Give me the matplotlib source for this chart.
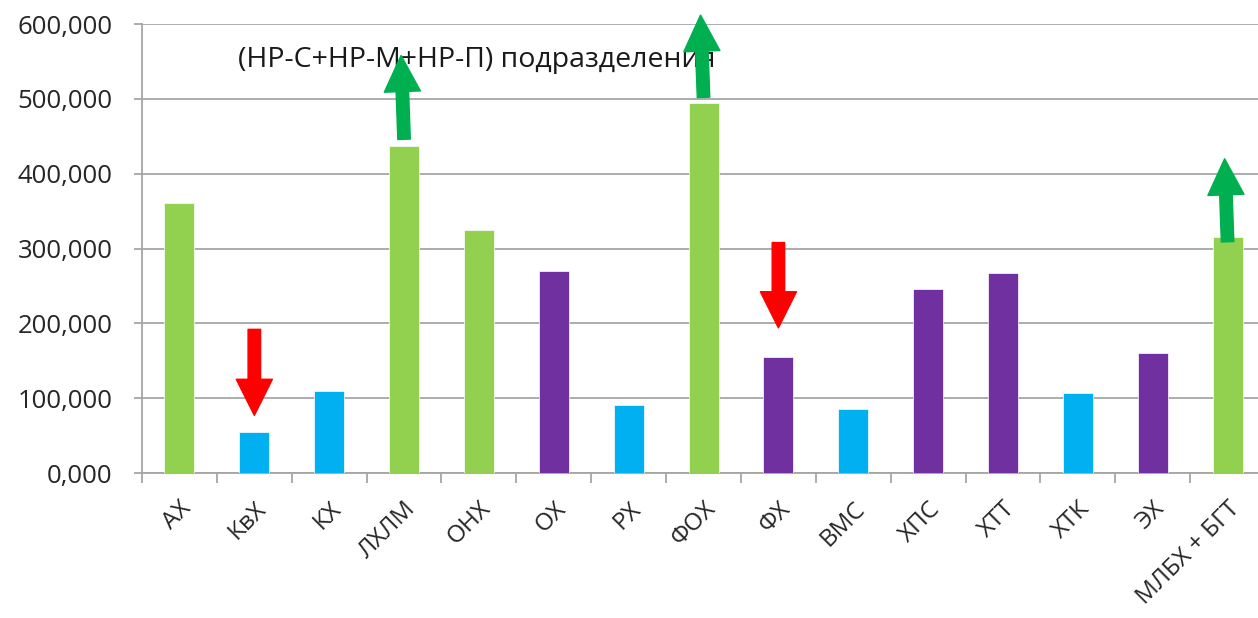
import matplotlib
matplotlib.use("Agg")
import matplotlib.pyplot as plt
import numpy as np
from matplotlib.ticker import FuncFormatter, MultipleLocator, FixedLocator

# данные
categories = ["АХ", "КвХ", "КХ", "ЛХЛМ", "ОНХ", "ОХ", "РХ", "ФОХ", "ФХ", "ВМС",
              "ХПС", "ХТТ", "ХТК", "ЭХ", "МЛБХ + БГТ"]
values = [361000, 55000, 110000, 437000, 325000, 270500, 91500, 495000, 155500, 85500,
          246000, 267000, 106500, 161000, 315500]
groups = ["g", "b", "b", "g", "g", "p", "b", "g", "p", "b", "p", "p", "b", "p", "g"]
title_text = "(НР-С+НР-М+НР-П) подразделения"

# стрелки: (индекс категории, начало, конец)
up_arrows = [(3, 446000, 558000), (7, 502000, 612000), (14, 309000, 420000)]
down_arrows = [(1, 192000, 77000), (8, 308000, 194000)]

colors = {"g": "#92D050", "b": "#00B0F0", "p": "#7030A0"}
bar_colors = [colors[g] for g in groups]

plt.rcParams['font.family'] = ['Open Sans', 'DejaVu Sans']

fig = plt.figure(figsize=(12.58, 6.18), dpi=100)
ax = fig.add_axes([0.1129, 0.2346, 0.8927, 0.7265])

x = np.arange(len(categories))
ax.bar(x, values, width=0.4, color=bar_colors, edgecolor="white", linewidth=0.5, zorder=3)

ax.set_xlim(-0.5, len(categories) - 0.5)
ax.set_ylim(0, 600000)
ax.yaxis.set_major_locator(MultipleLocator(100000))
ax.yaxis.set_major_formatter(FuncFormatter(lambda v, p: f"{int(v/1000)},000" if v > 0 else "0,000"))
ax.grid(axis="y", color="#A6A6A6", linewidth=1.3, zorder=0)

ax.set_xticks(x)
ax.set_xticklabels(categories, rotation=45, ha="right", rotation_mode="anchor")
ax.xaxis.set_minor_locator(FixedLocator(np.arange(-0.5, len(categories), 1.0)))
ax.tick_params(axis="x", which="major", length=0, pad=17, labelsize=17.5, labelcolor="#262626")
ax.tick_params(axis="x", which="minor", length=7, width=1.3, color="#A6A6A6")
ax.tick_params(axis="y", length=6, width=1.3, color="#A6A6A6", labelsize=18.5, labelcolor="#262626", pad=15)

for s in ["top", "right"]:
    ax.spines[s].set_visible(False)
for s in ["left", "bottom"]:
    ax.spines[s].set_color("#A6A6A6")
    ax.spines[s].set_linewidth(1.3)

ax.text(0.78, 552000, title_text, fontsize=20.5, color="#1a1a1a", va="center", ha="left")

for i, y0, y1 in up_arrows:
    ax.annotate("", xy=(i - 0.04, y1), xytext=(i, y0), annotation_clip=False,
                arrowprops=dict(arrowstyle="simple,head_width=26,head_length=26,tail_width=9",
                                mutation_scale=1, color="#00B050", shrinkA=0, shrinkB=0), zorder=5)
for i, y0, y1 in down_arrows:
    ax.annotate("", xy=(i, y1), xytext=(i, y0), annotation_clip=False,
                arrowprops=dict(arrowstyle="simple,head_width=26,head_length=26,tail_width=9",
                                mutation_scale=1, color="#FF0000", shrinkA=0, shrinkB=0), zorder=5)

fig.savefig("out.png", dpi=100)
